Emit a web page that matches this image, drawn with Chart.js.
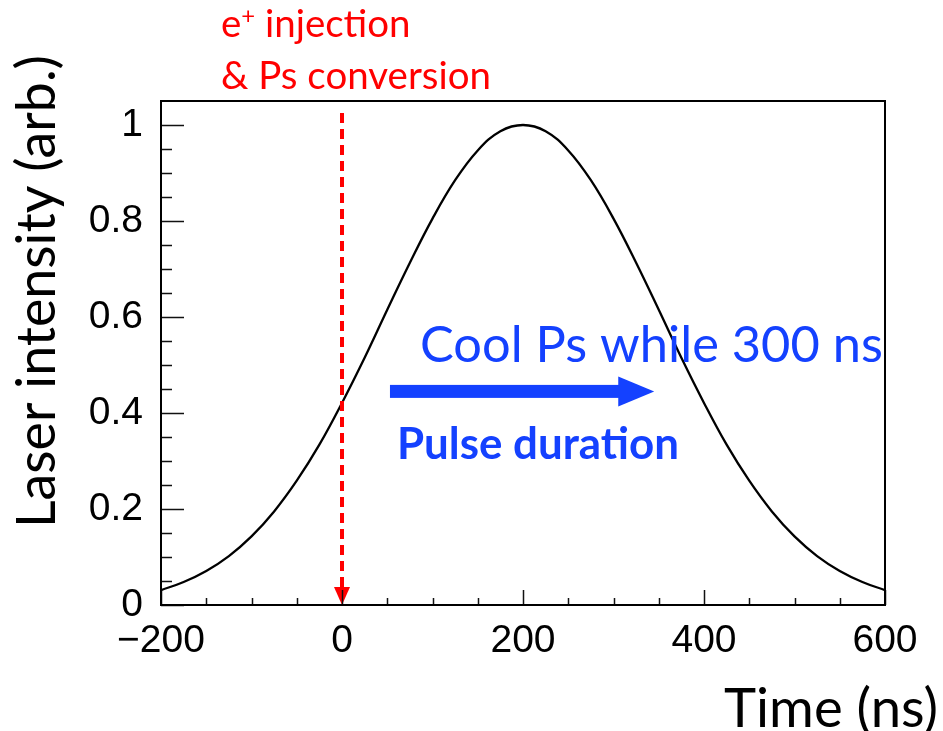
<!DOCTYPE html>
<html>
<head>
<meta charset="utf-8">
<script src="https://cdn.jsdelivr.net/npm/chart.js@4.4.1/dist/chart.umd.min.js"></script>
<style>
  html, body { margin: 0; padding: 0; background: #fff; }
  #wrap { width: 943px; height: 731px; }
</style>
</head>
<body>
<div id="wrap"><canvas id="laserChart" width="943" height="731"></canvas></div>
<script>
// laser pulse profile (every 25 ns)
const timeNs = [-200, -175, -150, -125, -100, -75, -50, -25, 0, 25, 50, 75, 100, 125, 150, 175, 200,
                225, 250, 275, 300, 325, 350, 375, 400, 425, 450, 475, 500, 525, 550, 575, 600];
const intensity = [0.031, 0.048, 0.071, 0.102, 0.143, 0.195, 0.259, 0.334, 0.421, 0.515, 0.615, 0.713, 0.805, 0.885, 0.947, 0.987, 1.0,
                   0.987, 0.947, 0.885, 0.805, 0.713, 0.615, 0.515, 0.421, 0.334, 0.259, 0.195, 0.143, 0.102, 0.071, 0.048, 0.031];

const xTicks = [-200, 0, 200, 400, 600];
const yTicks = [0, 0.2, 0.4, 0.6, 0.8, 1];
const xMinorStep = 50;
const yMinorStep = 0.05;

// annotations
const injectionTime = 0;        // red marker
const injectionTop = 1.025;
const pulseArrow = [53, 345];   // ns, blue arrow
const pulseArrowLevel = 0.445;

const calibriLike = "Lato, 'Open Sans', sans-serif";
const helveticaLike = "'Liberation Sans', Arial, sans-serif";

function fitSize(ctx, text, weight, family, width) {
    ctx.font = `${weight} 100px ${family}`;
    return 100 * width / ctx.measureText(text).width;
}

const annotations = {
    id: 'annotations',
    afterDatasetsDraw(chart) {
        const ctx = chart.ctx;
        const x = chart.scales.x, y = chart.scales.y;
        ctx.save();

        // red dashed line with arrow head
        const px = x.getPixelForValue(injectionTime);
        const yTop = y.getPixelForValue(injectionTop);
        const yBot = y.getPixelForValue(0);
        ctx.strokeStyle = '#ff0000';
        ctx.fillStyle = '#ff0000';
        ctx.lineWidth = 4;
        ctx.setLineDash([10, 6]);
        ctx.beginPath();
        ctx.moveTo(px, yTop);
        ctx.lineTo(px, yBot - 16);
        ctx.stroke();
        ctx.setLineDash([]);
        ctx.beginPath();
        ctx.moveTo(px - 8, yBot - 18);
        ctx.lineTo(px + 8, yBot - 18);
        ctx.lineTo(px, yBot);
        ctx.closePath();
        ctx.fill();

        // blue arrow
        const ax0 = x.getPixelForValue(pulseArrow[0]);
        const ax1 = x.getPixelForValue(pulseArrow[1]);
        const ay = y.getPixelForValue(pulseArrowLevel);
        ctx.fillStyle = '#1441ff';
        ctx.fillRect(ax0, ay - 6.5, ax1 - ax0 - 34, 13);
        ctx.beginPath();
        ctx.moveTo(ax1 - 36, ay - 15);
        ctx.lineTo(ax1, ay);
        ctx.lineTo(ax1 - 36, ay + 15);
        ctx.closePath();
        ctx.fill();

        // texts
        ctx.textBaseline = 'alphabetic';
        ctx.textAlign = 'left';
        let s = fitSize(ctx, 'Cool Ps while 300 ns', 'normal', calibriLike, 463);
        ctx.font = `normal ${s}px ${calibriLike}`;
        ctx.fillText('Cool Ps while 300 ns', 420, 362);

        s = fitSize(ctx, 'Pulse duration', 'bold', calibriLike, 282);
        ctx.font = `bold ${s}px ${calibriLike}`;
        ctx.fillText('Pulse duration', 397, 459);

        ctx.fillStyle = '#ff0000';
        s = fitSize(ctx, '& Ps conversion', 'normal', calibriLike, 270);
        ctx.font = `normal ${s}px ${calibriLike}`;
        ctx.fillText('& Ps conversion', 221, 89);
        ctx.fillText('e', 221, 37);
        let w = ctx.measureText('e').width;
        ctx.font = `normal ${s * 0.62}px ${calibriLike}`;
        ctx.fillText('+', 221 + w, 24);
        w += ctx.measureText('+').width;
        ctx.font = `normal ${s}px ${calibriLike}`;
        ctx.fillText(' injection', 221 + w, 37);

        // axis titles
        ctx.fillStyle = '#000';
        s = fitSize(ctx, 'Time (ns)', 'normal', calibriLike, 214);
        ctx.font = `normal ${s}px ${calibriLike}`;
        ctx.textAlign = 'right';
        ctx.fillText('Time (ns)', 938, 727);

        s = fitSize(ctx, 'Laser intensity (arb.)', 'normal', calibriLike, 473);
        ctx.font = `normal ${s}px ${calibriLike}`;
        ctx.textAlign = 'left';
        ctx.translate(55, 528);
        ctx.rotate(-Math.PI / 2);
        ctx.fillText('Laser intensity (arb.)', 0, 0);
        ctx.restore();
    },
    afterDraw(chart) {
        const ctx = chart.ctx;
        const { left, right, top, bottom } = chart.chartArea;
        const x = chart.scales.x, y = chart.scales.y;
        ctx.save();
        ctx.strokeStyle = '#111';
        ctx.lineWidth = 1.5;
        // inward ticks, ROOT style
        ctx.beginPath();
        for (let v = x.min; v <= x.max + 1e-9; v += xMinorStep) {
            const p = Math.round(x.getPixelForValue(v)) + 0.5;
            const len = xTicks.includes(v) ? 15 : 7;
            ctx.moveTo(p, bottom);
            ctx.lineTo(p, bottom - len);
        }
        for (let i = 0; i * yMinorStep <= 1.0001; i++) {
            const v = i * yMinorStep;
            const p = Math.round(y.getPixelForValue(v)) + 0.5;
            const len = (i % 4 === 0) ? 23 : 11;
            ctx.moveTo(left, p);
            ctx.lineTo(left + len, p);
        }
        ctx.stroke();
        // frame
        ctx.lineWidth = 2;
        ctx.strokeStyle = '#000';
        ctx.strokeRect(left, top, right - left, bottom - top);
        ctx.restore();
    }
};

const points = timeNs.map((t, i) => ({ x: t, y: intensity[i] }));

new Chart(document.getElementById('laserChart'), {
    type: 'line',
    data: {
        datasets: [{
            data: points,
            borderColor: '#000',
            borderWidth: 2.3,
            pointRadius: 0,
            tension: 0.4,
            fill: false
        }]
    },
    options: {
        responsive: false,
        animation: false,
        layout: { padding: { top: 101, right: 58, left: 0, bottom: 0 } },
        plugins: { legend: { display: false }, tooltip: { enabled: false } },
        scales: {
            x: {
                type: 'linear',
                min: -200,
                max: 600,
                grid: { display: false, drawTicks: false },
                border: { display: false },
                afterBuildTicks: scale => { scale.ticks = xTicks.map(v => ({ value: v })); },
                afterFit: scale => { scale.height = 126; },
                ticks: {
                    padding: 13,
                    color: '#000',
                    maxRotation: 0,
                    font: { family: helveticaLike, size: 39 },
                    callback: v => v < 0 ? '\u2212' + Math.abs(v) : String(v)
                }
            },
            y: {
                min: 0,
                max: 1.05,
                grid: { display: false, drawTicks: false },
                border: { display: false },
                afterBuildTicks: scale => { scale.ticks = yTicks.map(v => ({ value: v })); },
                afterFit: scale => { scale.width = 161; },
                ticks: {
                    padding: 18,
                    color: '#000',
                    font: { family: helveticaLike, size: 39 },
                    callback: v => String(+v.toFixed(1))
                }
            }
        }
    },
    plugins: [annotations]
});
</script>
</body>
</html>
